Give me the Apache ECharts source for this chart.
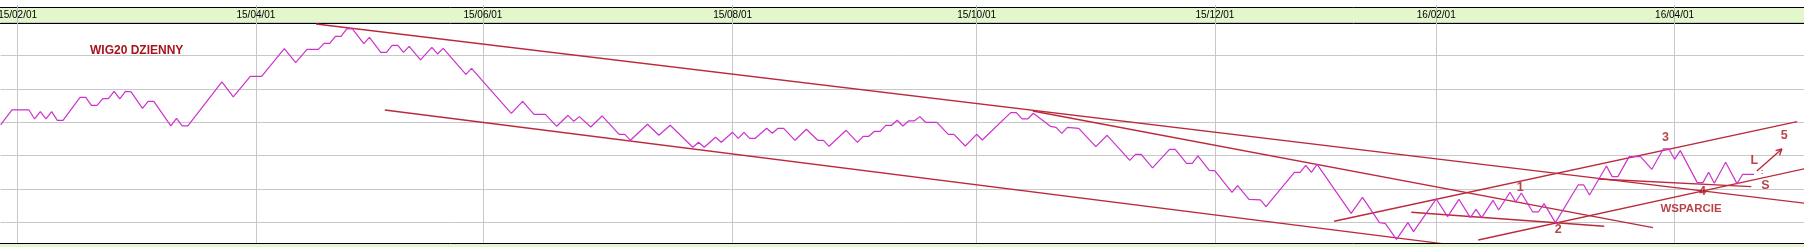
<!DOCTYPE html>
<html>
<head>
<meta charset="utf-8">
<script src="https://cdn.jsdelivr.net/npm/echarts@6/dist/echarts.min.js"></script>
<style>
html,body{margin:0;padding:0;background:#fff;}
#c{width:1804px;height:247px;}
</style>
</head>
<body>
<div id="c"></div>
<script>
// ---- data ----
const daySlots = 319; // trading-day slots on the x axis
const monthStartIdx = [3, 45, 85, 129, 172, 214, 253, 295];
const monthLabels = ['15/02/01','15/04/01','15/06/01','15/08/01','15/10/01','15/12/01','16/02/01','16/04/01'];

// [trading-day index, level] turning points of the WIG20 daily line
const wig20Daily = [
[0,2392],[2,2437],[5,2437],[6,2410],[7,2432],[8,2410],[9,2432],[10,2406],[11,2406],[14,2475],
[15,2475],[16,2451],[17,2451],[18,2471],[19,2471],[20,2493],[21,2470],[22,2493],[23,2491],[25,2442],
[26,2463],[27,2463],[30,2389],[31,2412],[32,2389],[33,2389],[39,2521],[41,2476],[44,2538],[46,2538],
[50,2621],[52,2579],[54,2619],[56,2619],[57,2637],[58,2637],[59,2658],[60,2658],[61,2680],[62,2680],
[64,2636],[65,2655],[67,2610],[68,2610],[69,2631],[70,2631],[71,2610],[72,2628],[74,2587],[76,2625],
[77,2605],[78,2622],[82,2544],[83,2562],[85,2523],[90,2427],[92,2463],[94,2424],[96,2424],[98,2388],
[100,2421],[101,2403],[102,2417],[104,2386],[106,2419],[109,2364],[110,2364],[111,2346],[114,2394],[116,2361],
[118,2391],[122,2325],[123,2340],[124,2325],[126,2355],[127,2340],[129,2370],[130,2352],[131,2370],[132,2352],
[133,2352],[135,2382],[136,2367],[137,2382],[138,2382],[140,2346],[142,2379],[144,2346],[145,2346],[146,2328],
[149,2376],[151,2340],[152,2358],[153,2358],[154,2373],[155,2373],[156,2391],[157,2391],[158,2406],[159,2389],
[160,2404],[161,2404],[162,2417],[163,2400],[165,2400],[167,2364],[168,2364],[170,2329],[172,2364],[173,2347],
[178,2429],[179,2429],[180,2410],[181,2410],[182,2427],[185,2388],[186,2385],[187,2367],[188,2385],[190,2382],
[193,2327],[195,2361],[199,2286],[200,2304],[201,2304],[203,2263],[206,2319],[207,2319],[209,2277],[210,2277],
[211,2299],[213,2256],[214,2254],[217,2190],[218,2210],[220,2169],[222,2167],[223,2147],[228,2250],[229,2250],
[230,2271],[231,2250],[232,2274],[238,2127],[240,2175],[243,2099],[244,2097],[246,2049],[248,2099],[249,2072],
[253,2170],[255,2117],[257,2169],[259,2114],[260,2139],[261,2114],[263,2166],[264,2137],[266,2190],[267,2161],
[268,2188],[270,2131],[271,2131],[272,2156],[274,2099],[278,2212],[279,2212],[280,2182],[283,2269],[284,2237],
[285,2237],[287,2297],[289,2297],[291,2259],[293,2320],[294,2320],[295,2289],[296,2315],[299,2219],[300,2219],
[301,2250],[302,2217],[304,2280],[306,2216],[307,2244],[309,2244]
];

// trend lines: [[dayStart, levelStart], [dayEnd, levelEnd]]
const trendUpperLong = [[55.6,2695],[318,2157]];
const trendLowerChannel = [[67.7,2437],[255.4,2033]];
const trendOctHigh = [[181.9,2434],[291.2,2084]];
const trendRisingUpper = [[235.0,2103],[316.6,2402]];
const trendFebFlat = [[248.6,2130],[282.6,2088]];
const trendRisingLower = [[260.4,2047],[318,2261]];
const trendSupportS = [[281.5,2230],[308.5,2207]];
const arrowShaft = [[309.5,2254],[313.9,2320]];
const arrowHead = [[312.8,2315],[313.9,2320],[313.5,2301]];

// annotations
const annoText = ['1','2','3','4','5','L','S','WSPARCIE',':'];
const annoDay  = [267.8, 274.5, 293.4, 299.9, 314.3, 309.05, 311.0, 297.9, 310.4];
const annoLevel= [2205, 2077, 2355, 2192, 2360, 2286, 2211, 2141, 2252];

// ---- chart ----
const isMonthStart = (i) => monthStartIdx.indexOf(i) >= 0;
const cats = [];
for (let i = 0; i < daySlots; i++) cats.push(String(i));

const RED = '#bb2a3a';
const TXT = '#a8141c';
const trendSeries = [trendUpperLong, trendLowerChannel, trendOctHigh, trendRisingUpper,
  trendFebFlat, trendRisingLower, trendSupportS, arrowShaft, arrowHead].map(d => ({
  type: 'line', xAxisIndex: 1, data: d, symbol: 'none', silent: true, animation: false,
  lineStyle: { color: RED, width: 1.4 }, z: 3
}));

const chart = echarts.init(document.getElementById('c'), null, { renderer: 'canvas' });
chart.setOption({
  animation: false,
  backgroundColor: '#ffffff',
  title: {
    text: 'WIG20 DZIENNY', left: 90, top: 45, padding: 0,
    textStyle: { color: TXT, fontSize: 12, fontWeight: 'bold', fontFamily: 'Liberation Sans' }
  },
  grid: { left: 0.6, width: 1804.5, top: 22.3, height: 233.33, containLabel: false, outerBoundsMode: 'none' },
  graphic: [
    { type: 'rect', z: -10, shape: { x: -2, y: 7.5, width: 1810, height: 16 },
      style: { fill: '#e4f6cc', stroke: '#000', lineWidth: 1 } },
    { type: 'rect', z: 100, shape: { x: -2, y: 243.5, width: 1810, height: 10 },
      style: { fill: '#e4f6cc', stroke: '#000', lineWidth: 1 } }
  ],
  xAxis: [
    {
      type: 'category', data: cats, boundaryGap: false, position: 'top',
      axisLine: { show: false },
      axisTick: { show: true, interval: isMonthStart, length: 17, lineStyle: { color: '#b8b8b8' } },
      axisLabel: {
        interval: isMonthStart, margin: 7, verticalAlign: 'middle',
        formatter: (v) => monthLabels[monthStartIdx.indexOf(Number(v))] || '',
        color: '#000', fontSize: 10, fontFamily: 'Liberation Sans'
      },
      splitLine: { show: true, interval: isMonthStart, lineStyle: { color: '#c8c8c8', width: 1 } }
    },
    { type: 'value', min: 0, max: daySlots - 1, show: false }
  ],
  yAxis: {
    type: 'value', min: 2000, max: 2700, interval: 100,
    axisLine: { show: false }, axisTick: { show: false }, axisLabel: { show: false },
    splitLine: { show: true, lineStyle: { color: '#c8c8c8', width: 1 } }
  },
  series: [
    {
      type: 'line', xAxisIndex: 1, data: wig20Daily, symbol: 'none', z: 4,
      lineStyle: { color: '#cc33cc', width: 1.2 }
    },
    ...trendSeries,
    {
      type: 'scatter', xAxisIndex: 1, z: 6, symbolSize: 1,
      itemStyle: { color: 'rgba(0,0,0,0)' },
      data: annoText.map((t, i) => ({ name: t, value: [annoDay[i], annoLevel[i]],
        label: { fontSize: t === 'WSPARCIE' ? 11.5 : (t === ':' ? 8 : 12.5) } })),
      label: {
        show: true, position: 'inside', formatter: '{b}',
        color: TXT, fontWeight: 'bold', fontFamily: 'Liberation Sans'
      }
    }
  ]
});
</script>
</body>
</html>
